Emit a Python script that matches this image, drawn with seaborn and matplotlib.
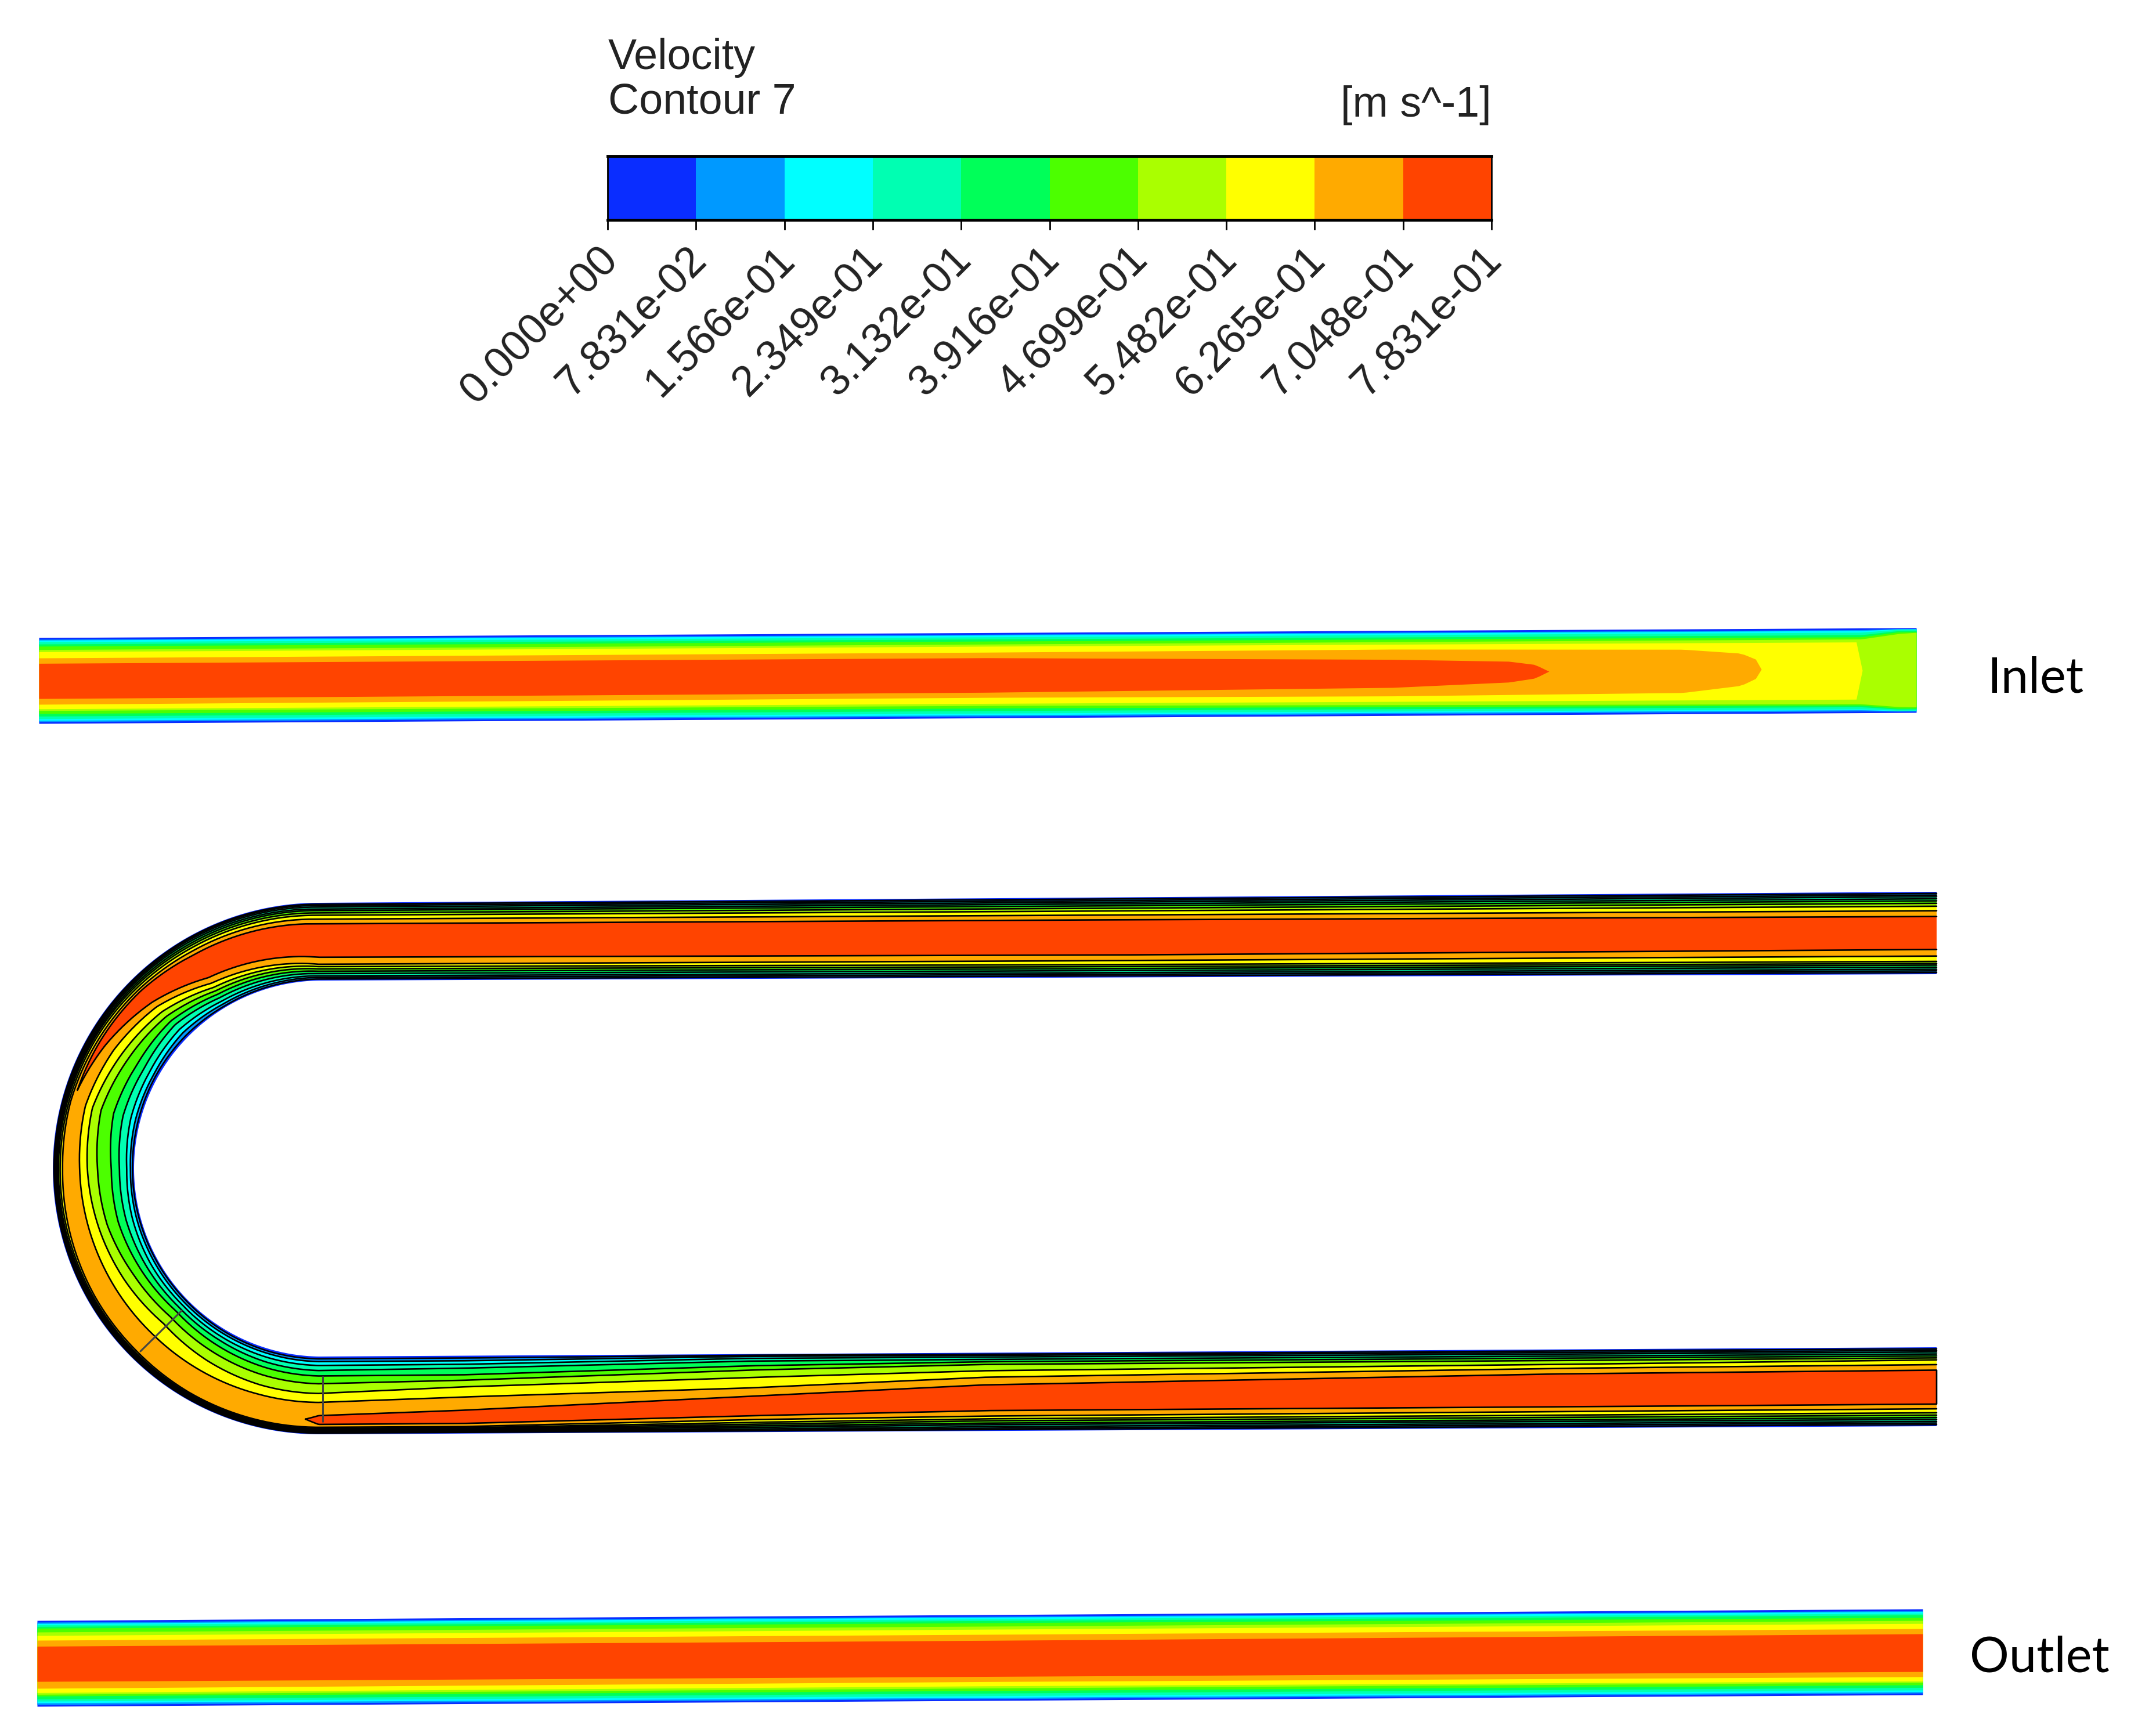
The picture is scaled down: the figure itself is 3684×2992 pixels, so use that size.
import numpy as np
import matplotlib
matplotlib.use("Agg")
import matplotlib.pyplot as plt
from matplotlib.colors import ListedColormap
from matplotlib.transforms import ScaledTranslation
import seaborn as sns

# legend
band_colors = ["#0a2dff", "#0099ff", "#00ffff", "#00ffb2", "#00ff59",
               "#4cff00", "#aaff00", "#ffff00", "#ffaa00", "#ff4400"]
legend_values = [0, 1, 2, 3, 4, 5, 6, 7, 8, 9]
legend_ticks = ["0.000e+00", "7.831e-02", "1.566e-01", "2.349e-01", "3.132e-01", "3.916e-01",
                "4.699e-01", "5.482e-01", "6.265e-01", "7.048e-01", "7.831e-01"]

# u-tube stations, read along the pipe from the upper right end
upper_x = [3337, 1900]
bend_deg = [0, 30, 45, 60, 75, 90, 105, 120, 135, 150, 165, 180]
lower_x = [800, 1293, 1700, 2700, 3337]

# band edges as a fraction of the pipe width, measured from the outer wall
tube_outer = [
    [.02, .02, .018, .015, .015, .015, .015, .015, .015, .015, .015, .015, .015, .015, .015, .015, .018, .02, .02],
    [.04, .04, .035, .025, .025, .025, .025, .025, .025, .025, .025, .025, .025, .025, .025, .025, .035, .04, .04],
    [.06, .06, .055, .04, .04, .035, .035, .035, .035, .035, .035, .035, .035, .035, .035, .04, .055, .06, .06],
    [.085, .08, .08, .06, .055, .05, .045, .045, .045, .045, .045, .045, .045, .045, .045, .06, .08, .085, .085],
    [.11, .105, .10, .085, .075, .065, .055, .055, .055, .055, .055, .055, .055, .055, .055, .08, .10, .105, .11],
    [.14, .135, .13, .11, .095, .08, .07, .07, .065, .065, .065, .065, .065, .065, .065, .10, .13, .135, .14],
    [.175, .17, .16, .14, .12, .10, .09, .09, .085, .08, .08, .075, .075, .075, .075, .125, .155, .165, .17],
    [.23, .22, .21, .18, .15, .13, .11, .12, .11, .10, .10, .09, .09, .09, .09, .16, .19, .21, .22],
]
tube_inner = [
    [.98, .98, .98, .98, .97, .97, .975, .98, .98, .98, .98, .975, .97, .97, .97, .985, .98, .98, .98],
    [.96, .96, .96, .95, .92, .94, .94, .955, .95, .95, .95, .945, .94, .935, .935, .97, .965, .96, .96],
    [.94, .94, .94, .91, .86, .88, .88, .91, .90, .90, .91, .90, .89, .885, .89, .945, .945, .94, .94],
    [.915, .915, .91, .86, .78, .80, .78, .82, .82, .84, .86, .85, .83, .82, .84, .91, .915, .915, .915],
    [.89, .89, .88, .81, .71, .70, .66, .72, .72, .76, .80, .78, .76, .75, .755, .85, .885, .89, .89],
    [.87, .865, .85, .76, .63, .57, .50, .55, .58, .65, .70, .68, .66, .65, .685, .795, .85, .86, .865],
    [.845, .84, .82, .71, .55, .47, .39, .425, .47, .52, .58, .55, .53, .525, .60, .70, .77, .81, .84],
    [.78, .79, .79, .65, .46, .36, .30, .33, .35, .37, .39, .40, .41, .41, .47, .567, .687, .76, .78],
]

# the two red cores in the tube
red1_x = [3337, 1900]
red1_deg = [0, 30, 45, 60, 72]
red1_outer = [.30, .28, .27, .23, .18, .16, .15]
red1_inner = [.70, .72, .70, .57, .38, .24, .15]
red2_deg = [177, 180]
red2_x = [800, 1293, 1700, 2700, 3337]
red2_outer = [.19, .127, .13, .21, .26, .27, .28]
red2_inner = [.19, .24, .30, .46, .59, .69, .71]

# inlet pipe
inlet_wall_x = [67, 3302]
inlet_wall_top = [1099, 1082]
inlet_wall_bottom = [1247, 1228]
inlet_x = [67, 1700, 3207, 3270, 3302]
inlet_top = [
    [.02, .02, .02, .01, .01],
    [.03, .03, .03, .015, .015],
    [.05, .05, .05, .02, .02],
    [.075, .075, .08, .035, .035],
    [.10, .10, .105, .05, .05],
    [.14, .135, .13, .07, .055],
]
inlet_bottom = [
    [.98, .98, .98, .985, .985],
    [.965, .965, .965, .98, .98],
    [.945, .945, .955, .975, .975],
    [.915, .915, .93, .96, .96],
    [.885, .885, .91, .95, .95],
    [.85, .855, .895, .93, .935],
]
inlet_yellow_x = [67, 1700, 3190, 3207, 3209]
inlet_yellow_top = [.165, .16, .165, .165, .5]
inlet_yellow_bottom = [.83, .83, .84, .84, .5]
inlet_orange_x = [67, 1700, 2400, 2900, 3000, 3025, 3035]
inlet_orange_top = [.237, .23, .22, .24, .29, .36, .48]
inlet_orange_bottom = [.777, .76, .77, .75, .67, .59, .48]
inlet_red_x = [67, 1700, 2400, 2600, 2645, 2669]
inlet_red_top = [.30, .295, .34, .37, .41, .49]
inlet_red_bottom = [.71, .70, .67, .615, .57, .49]

# outlet pipe
outlet_x = [64, 1700, 3313]
outlet_wall_top = [2793, 2773]
outlet_wall_bottom = [2941, 2921]
outlet_top = [
    [.02, .02, .02], [.035, .03, .03], [.05, .05, .05], [.07, .07, .07], [.09, .095, .10],
    [.135, .135, .135], [.175, .17, .17], [.23, .23, .23], [.30, .30, .29],
]
outlet_bottom = [
    [.98, .98, .98], [.96, .965, .965], [.94, .945, .945], [.915, .915, .915], [.88, .885, .885],
    [.86, .855, .855], [.84, .83, .84], [.79, .78, .79], [.71, .72, .73],
]

# grey section lines on the bend
section1_x = [242, 313]
section1_y = [2329, 2259]
section2_x = [556, 556]
section2_y = [2373, 2450]


def tube_xy(u, t):
    # u: 0-1 upper straight, 1-2 bend, 2-3 lower straight. t: 0 outer wall, 1 inner wall
    u = np.asarray(u, dtype=float)
    t = np.asarray(t, dtype=float)
    x = np.zeros_like(u)
    y = np.zeros_like(u)
    a = u < 1
    x[a] = 3337 + (549 - 3337) * u[a]
    top = 1537 + (1556 - 1537) * u[a]
    bot = 1679 + (1690 - 1679) * u[a]
    y[a] = top + (bot - top) * t[a]
    b = (u >= 1) & (u <= 2)
    th = (u[b] - 1) * np.pi
    r = 458 - (134 + 6 * np.sin(th)) * t[b]
    x[b] = 549 - r * np.sin(th)
    y[b] = 2014 - r * np.cos(th)
    c = u > 2
    f = u[c] - 2
    x[c] = 549 + (3337 - 549) * f
    out = 2472 + (2458 - 2472) * f
    inn = 2338 + (2322 - 2338) * f
    y[c] = out + (inn - out) * t[c]
    return x, y


def x_to_u_upper(xs):
    return [(3337 - v) / (3337 - 549) for v in xs]


def x_to_u_lower(xs):
    return [2 + (v - 549) / (3337 - 549) for v in xs]


def deg_to_u(ds):
    return [1 + d / 180 for d in ds]


def tube_band(ax, stations, outer, inner, color, lines=True):
    u = np.linspace(stations[0], stations[-1], 700)
    to = np.interp(u, stations, outer)
    ti = np.interp(u, stations, inner)
    xo, yo = tube_xy(u, to)
    xi, yi = tube_xy(u, ti)
    ax.fill(np.r_[xo, xi[::-1]], np.r_[yo, yi[::-1]], color=color, lw=0)
    if lines:
        xl = np.r_[xo, xi[::-1]]
        yl = np.r_[yo, yi[::-1]]
        if outer[0] == inner[0] or outer[-1] == inner[-1]:
            sns.lineplot(x=xl, y=yl, sort=False, estimator=None, color="black", linewidth=1.9, ax=ax)
        else:
            sns.lineplot(x=xo, y=yo, sort=False, estimator=None, color="black", linewidth=1.9, ax=ax)
            sns.lineplot(x=xi, y=yi, sort=False, estimator=None, color="black", linewidth=1.9, ax=ax)


def pipe_band(ax, xs, top, bottom, wall_x, wall_top, wall_bottom, color):
    x = np.linspace(xs[0], xs[-1], 300)
    wt = np.interp(x, wall_x, wall_top)
    wb = np.interp(x, wall_x, wall_bottom)
    yt = wt + (wb - wt) * np.interp(x, xs, top)
    yb = wt + (wb - wt) * np.interp(x, xs, bottom)
    ax.fill_between(x, yt, yb, color=color, lw=0)


sns.set_theme(style="white")
plt.rcParams["font.family"] = ["Liberation Sans", "DejaVu Sans"]

fig = plt.figure(figsize=(36.84, 29.92), dpi=100)
ax = fig.add_axes([0, 0, 1, 1])

# inlet
pipe_band(ax, inlet_wall_x, [0, 0], [1, 1], inlet_wall_x, inlet_wall_top, inlet_wall_bottom, band_colors[0])
for i in range(6):
    pipe_band(ax, inlet_x, inlet_top[i], inlet_bottom[i], inlet_wall_x, inlet_wall_top, inlet_wall_bottom, band_colors[i + 1])
pipe_band(ax, inlet_yellow_x, inlet_yellow_top, inlet_yellow_bottom, inlet_wall_x, inlet_wall_top, inlet_wall_bottom, band_colors[7])
pipe_band(ax, inlet_orange_x, inlet_orange_top, inlet_orange_bottom, inlet_wall_x, inlet_wall_top, inlet_wall_bottom, band_colors[8])
pipe_band(ax, inlet_red_x, inlet_red_top, inlet_red_bottom, inlet_wall_x, inlet_wall_top, inlet_wall_bottom, band_colors[9])

# outlet
pipe_band(ax, outlet_x, [0, 0, 0], [1, 1, 1], [outlet_x[0], outlet_x[-1]], outlet_wall_top, outlet_wall_bottom, band_colors[0])
for i in range(9):
    pipe_band(ax, outlet_x, outlet_top[i], outlet_bottom[i], [outlet_x[0], outlet_x[-1]], outlet_wall_top, outlet_wall_bottom, band_colors[i + 1])

# u-tube
tube_st = x_to_u_upper(upper_x) + deg_to_u(bend_deg) + x_to_u_lower(lower_x)
zeros = [0] * len(tube_st)
ones = [1] * len(tube_st)
tube_band(ax, tube_st, zeros, ones, band_colors[0], lines=False)
for i in range(8):
    tube_band(ax, tube_st, tube_outer[i], tube_inner[i], band_colors[i + 1])
red1_st = x_to_u_upper(red1_x) + deg_to_u(red1_deg)
tube_band(ax, red1_st, red1_outer, red1_inner, band_colors[9])
red2_st = deg_to_u(red2_deg) + x_to_u_lower(red2_x)
tube_band(ax, red2_st, red2_outer, red2_inner, band_colors[9])

ax.plot(section1_x, section1_y, color="#444444", lw=2.2)
ax.plot(section2_x, section2_y, color="#444444", lw=2.2)

ax.set_xlim(0, 3684)
ax.set_ylim(2992, 0)
ax.set_xlabel("")
ax.set_ylabel("")
ax.axis("off")

# legend text
ax.text(1048, 99, "Velocity", fontsize=53, ha="left", va="center", color="#222222")
ax.text(1048, 176, "Contour 7", fontsize=53, ha="left", va="center", color="#222222")
ax.text(2570, 181, "[m s^-1]", fontsize=53, ha="right", va="center", color="#222222")
ax.text(3507, 1169, "Inlet", fontsize=61, ha="center", va="center", color="black", family="Lato")
ax.text(3514, 2857, "Outlet", fontsize=61, ha="center", va="center", color="black", family="Lato")

# legend bar
cax = fig.add_axes([1047 / 3684, 1 - 379 / 2992, (2570 - 1047) / 3684, 110 / 2992])
sns.heatmap([legend_values], cmap=ListedColormap(band_colors), cbar=False, vmin=-0.5, vmax=9.5,
            xticklabels=False, yticklabels=False, ax=cax)
for s in cax.spines.values():
    s.set_visible(True)
    s.set_color("black")
cax.spines["top"].set_linewidth(3.5)
cax.spines["bottom"].set_linewidth(3.5)
cax.spines["left"].set_linewidth(2)
cax.spines["right"].set_linewidth(2)
cax.set_xticks(range(len(legend_ticks)))
cax.set_xticklabels(legend_ticks, rotation=45, ha="right", va="top", rotation_mode="anchor",
                    fontsize=53, color="#222222")
cax.tick_params(axis="x", bottom=True, length=12, width=2, color="black", pad=12)
for label in cax.get_xticklabels():
    label.set_transform(label.get_transform() + ScaledTranslation(-0.18, 0, fig.dpi_scale_trans))

fig.savefig("out.png", dpi=100)
